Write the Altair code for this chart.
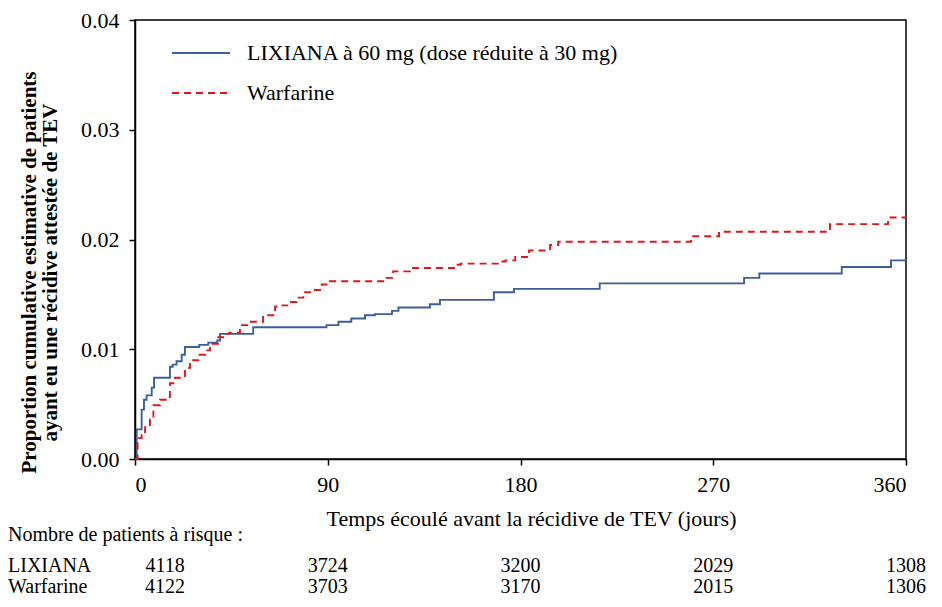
import altair as alt
import pandas as pd

FONT = "Liberation Serif"
BLUE = "#3b5f9a"
RED = "#e0161b"
FS = 22
FS_TAB = 20

series_names = ["LIXIANA à 60 mg (dose réduite à 30 mg)", "Warfarine"]

days_lix = [0, 0.8, 3.1, 4.2, 5.4, 7.8, 8.9, 16.3, 17.6, 19.4, 21.8, 23.3, 30, 34.2,
            38.4, 39.7, 55.2, 89.4, 95, 101, 107.4, 112, 120, 123, 137.7, 142.4,
            167.6, 177, 217, 284.4, 291.5, 330, 353, 360]
vals_lix = [0, 0.0027, 0.0045, 0.0054, 0.0058, 0.0065, 0.0074, 0.0084, 0.0086, 0.0089,
            0.0095, 0.0102, 0.0104, 0.0106, 0.0108, 0.0114, 0.0120, 0.0122, 0.0125,
            0.0128, 0.0131, 0.0132, 0.0135, 0.0138, 0.0141, 0.0145, 0.0152, 0.0155,
            0.0160, 0.0165, 0.0169, 0.0175, 0.0181, 0.0181]

days_war = [0, 1.2, 3.1, 4.7, 7.0, 8.6, 11.7, 16.3, 18.7, 23.3, 25.7, 29.6, 32.7, 35,
            38.9, 41.2, 44, 49, 53.6, 59.8, 65.4, 67.7, 72.4, 75.5, 78.6, 83.3, 87.2,
            91, 117.5, 120.5, 128.4, 150, 152, 169.5, 173, 177.5, 184, 193.8, 197.6,
            259.6, 272.7, 324.5, 351.6, 360]
vals_war = [0, 0.0019, 0.0022, 0.0029, 0.0036, 0.0049, 0.0054, 0.0069, 0.0074, 0.0083,
            0.0090, 0.0095, 0.0099, 0.0105, 0.0111, 0.0114, 0.0115, 0.0122, 0.0125,
            0.0131, 0.0139, 0.0140, 0.0143, 0.0147, 0.0152, 0.0154, 0.0159, 0.0162,
            0.0165, 0.0171, 0.0174, 0.0177, 0.0178, 0.0180, 0.0181, 0.0184, 0.0190,
            0.0195, 0.0198, 0.0203, 0.0207, 0.0214, 0.0220, 0.0220]

risk_days = [0, 90, 180, 270, 360]
risk_lix = [4118, 3724, 3200, 2029, 1308]
risk_war = [4122, 3703, 3170, 2015, 1306]
row_labels = ["LIXIANA", "Warfarine"]
risk_title = "Nombre de patients à risque :"

x_ticks = [0, 90, 180, 270, 360]
y_ticks = [0.0, 0.01, 0.02, 0.03, 0.04]
x_title = "Temps écoulé avant la récidive de TEV (jours)"
y_title = ["Proportion cumulative estimative de patients",
           "ayant eu une récidive attestée de TEV"]

curves = pd.DataFrame({
    "day": days_lix + days_war,
    "value": vals_lix + vals_war,
    "series": [series_names[0]] * len(days_lix) + [series_names[1]] * len(days_war),
})

x_scale = alt.Scale(domain=[0, 360], nice=False, zero=False)
y_scale = alt.Scale(domain=[0, 0.04], nice=False)

lines = alt.Chart(curves).mark_line(interpolate="step-after", strokeWidth=1.9).encode(
    x=alt.X("day:Q", scale=x_scale, axis=alt.Axis(
        values=x_ticks, title=x_title, format="d", grid=False,
        labelFont=FONT, labelFontSize=FS, labelColor="black", labelPadding=9,
        tickSize=6, tickColor="black", tickWidth=1.5,
        domainColor="black", domainWidth=1.5,
        titleFont=FONT, titleFontSize=FS, titleFontWeight="normal", titleColor="black",
        titleX=396, titleY=49, titleAlign="center", titleBaseline="top")),
    y=alt.Y("value:Q", scale=y_scale, axis=alt.Axis(
        values=y_ticks, format=".2f", title=y_title, grid=False,
        labelFont=FONT, labelFontSize=FS, labelColor="black", labelPadding=10,
        tickSize=6, tickColor="black", tickWidth=1.5,
        domainColor="black", domainWidth=1.5,
        titleFont=FONT, titleFontSize=21, titleFontWeight="bold", titleColor="black",
        titleX=-96, titleY=252, titleAlign="center", titleBaseline="bottom",
        titleAngle=270, titleLineHeight=21)),
    color=alt.Color("series:N", scale=alt.Scale(domain=series_names, range=[BLUE, RED]),
                    legend=None),
    strokeDash=alt.StrokeDash("series:N",
                              scale=alt.Scale(domain=series_names, range=[[1, 0], [7, 5]]),
                              legend=None),
)

# legend (drawn as decoration)
leg_rows = [33, 73]
leg_layers = []
for name, col, dash, yy in zip(series_names, [BLUE, RED], [[1, 0], [7, 5]], leg_rows):
    ldf = pd.DataFrame({"label": [name]})
    leg_layers.append(
        alt.Chart(ldf).mark_rule(color=col, strokeWidth=1.9, strokeDash=dash).encode(
            x=alt.value(37), x2=alt.value(95), y=alt.value(yy))
    )
    leg_layers.append(
        alt.Chart(ldf).mark_text(font=FONT, fontSize=FS, color="black", align="left",
                                 baseline="middle").encode(
            x=alt.value(112), y=alt.value(yy), text="label:N")
    )

# number-at-risk table
table_layers = []
for label, counts, base in zip(row_labels, [risk_lix, risk_war], [552, 573]):
    tdf = pd.DataFrame({"day": risk_days, "count": [str(c) for c in counts]})
    table_layers.append(
        alt.Chart(tdf).transform_filter("datum.day == 0").mark_text(
            font=FONT, fontSize=FS_TAB, color="black", align="center",
            baseline="alphabetic", dx=30).encode(
            x=alt.X("day:Q", scale=x_scale), y=alt.value(base), text="count:N")
    )
    table_layers.append(
        alt.Chart(tdf).transform_filter("datum.day > 0").mark_text(
            font=FONT, fontSize=FS_TAB, color="black", align="center",
            baseline="alphabetic").encode(
            x=alt.X("day:Q", scale=x_scale), y=alt.value(base), text="count:N")
    )
    table_layers.append(
        alt.Chart(pd.DataFrame({"row": [label]})).mark_text(
            font=FONT, fontSize=FS_TAB, color="black", align="left",
            baseline="alphabetic").encode(
            x=alt.value(-127), y=alt.value(base), text="row:N")
    )

title_text = alt.Chart(pd.DataFrame({"t": [risk_title]})).mark_text(
    font=FONT, fontSize=FS_TAB, color="black", align="left", baseline="alphabetic"
).encode(x=alt.value(-127), y=alt.value(521), text="t:N")

chart = alt.layer(lines, *leg_layers, *table_layers, title_text).properties(
    width=771, height=439,
    padding={"left": 127, "top": 12, "right": 28, "bottom": 140},
    autosize=alt.AutoSizeParams(type="none"),
).configure(
    background="white", font=FONT
).configure_view(
    stroke="black", strokeWidth=1.5
)

chart.save("out.html", embed_options={"renderer": "svg", "actions": False})
